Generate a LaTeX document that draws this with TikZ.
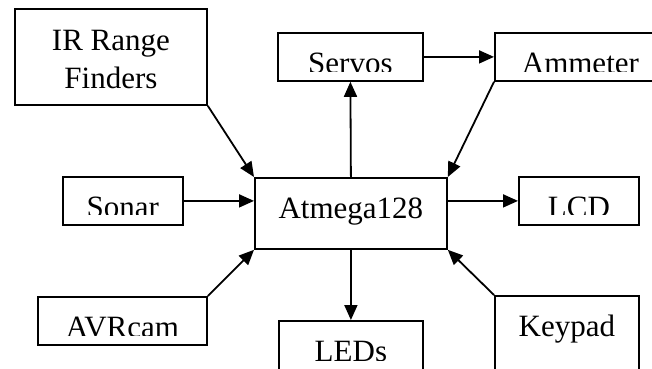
\documentclass[tikz,border=0pt]{standalone}
\usepackage{fontspec}
\setmainfont{Liberation Serif}
\usetikzlibrary{arrows.meta}
\begin{document}
\begin{tikzpicture}[x=1pt,y=-1pt,
  box/.style={draw, line width=1.8pt, inner sep=0pt, anchor=north west},
  lbl/.style={font=\fontsize{31}{37}\selectfont, anchor=base, inner sep=0pt},
  conn/.style={line width=1.8pt, -{Triangle[length=15pt,width=13pt]}}]
\clip (0,0) rectangle (652,368);
% boxes
\node[box, minimum width=192pt, minimum height=96pt] (ir) at (14,8) {};
\node[box, minimum width=145pt, minimum height=48pt] (servos) at (277,32) {};
\node[box, minimum width=171pt, minimum height=48pt] (amm) at (494,32) {};
\node[box, minimum width=120pt, minimum height=48pt] (sonar) at (62,176) {};
\node[box, minimum width=192pt, minimum height=71pt] (atm) at (254,177) {};
\node[box, minimum width=120pt, minimum height=48pt] (lcd) at (518,176) {};
\node[box, minimum width=169pt, minimum height=48pt] (avr) at (37,296) {};
\node[box, minimum width=144pt, minimum height=52pt] (leds) at (278,320) {};
\node[box, minimum width=144pt, minimum height=77pt] (key) at (494,295) {};
% labels
\node[lbl] (irT1) at ([yshift=-42pt]ir.north) {IR Range};
\node[lbl] (irT2) at ([yshift=-80pt]ir.north) {Finders};
\node[lbl] (atmT) at ([yshift=-41pt]atm.north) {Atmega128};
\node[lbl] (keyT) at ([yshift=-41pt]key.north) {Keypad};
\begin{scope}
\clip (servos.north west) rectangle ([yshift=10pt]servos.south east);
\node[lbl] (servosT) at ([yshift=-41pt]servos.north) {Servos};
\end{scope}
\begin{scope}
\clip (amm.north west) rectangle ([yshift=10pt]amm.south east);
\node[lbl] (ammT) at ([yshift=-41pt]amm.north) {Ammeter};
\end{scope}
\begin{scope}
\clip (sonar.north west) rectangle ([yshift=11pt]sonar.south east);
\node[lbl] (sonarT) at ([yshift=-41pt]sonar.north) {Sonar};
\end{scope}
\begin{scope}
\clip (lcd.north west) rectangle ([yshift=11pt]lcd.south east);
\node[lbl] (lcdT) at ([yshift=-41pt]lcd.north) {LCD};
\end{scope}
\begin{scope}
\clip (avr.north west) rectangle ([yshift=10pt]avr.south east);
\node[lbl] (avrT) at ([yshift=-41pt]avr.north) {AVRcam};
\end{scope}
\begin{scope}
\clip (leds.north west) rectangle ([yshift=13pt]leds.south east);
\node[lbl] (ledsT) at ([yshift=-41pt]leds.north) {LEDs};
\end{scope}
% connectors
\draw[conn] (ir.south east) -- (atm.north west);
\draw[conn] (sonar.east) -- (atm.west |- sonar.east);
\draw[conn] (avr.north east) -- (atm.south west);
\draw[conn] (atm.north) -- (servos.south);
\draw[conn] (servos.east) -- (amm.west);
\draw[conn] (amm.south west) -- (atm.north east);
\draw[conn] (atm.east |- lcd.west) -- (lcd.west);
\draw[conn] (atm.south) -- (leds.north);
\draw[conn] (key.north west) -- (atm.south east);
\end{tikzpicture}
\end{document}
